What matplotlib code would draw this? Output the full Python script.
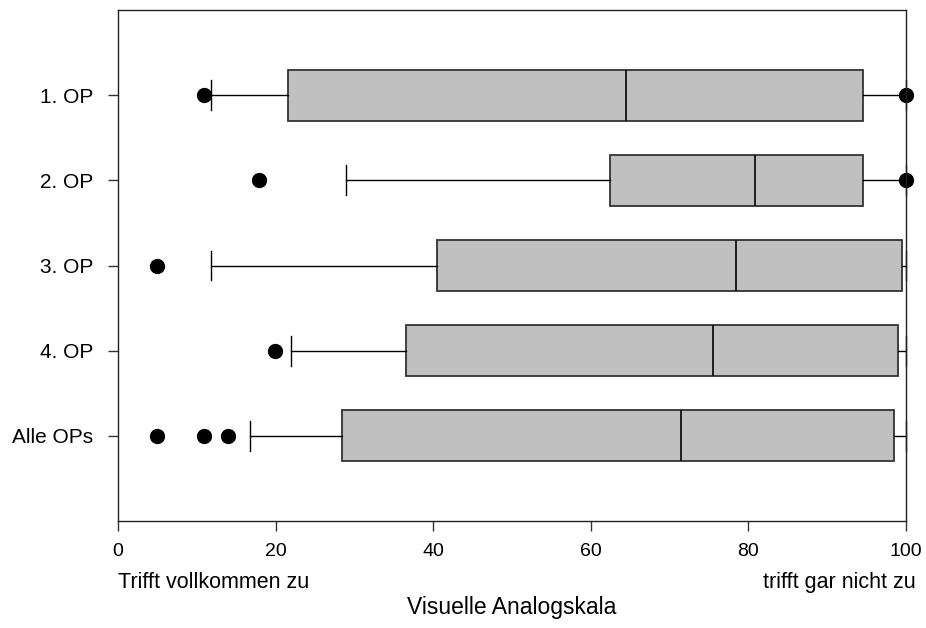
import matplotlib
matplotlib.use("Agg")
import matplotlib.pyplot as plt

plt.rcParams["font.family"] = ["Liberation Sans", "DejaVu Sans"]

# data (VAS 0..100), top to bottom
labels = ["1. OP", "2. OP", "3. OP", "4. OP", "Alle OPs"]
whislo = [11.8, 28.9, 11.8, 22.0, 16.8]
q1 = [21.6, 62.4, 40.5, 36.5, 28.4]
med = [64.5, 80.8, 78.4, 75.5, 71.4]
q3 = [94.5, 94.5, 99.5, 99.0, 98.5]
whishi = [100, 100, 100, 100, 100]
fliers = [[10.9, 100], [17.9, 100], [4.9], [19.9], [4.9, 10.9, 14.0]]
xticks = [0, 20, 40, 60, 80, 100]

stats = []
for i, lab in enumerate(labels):
    stats.append(dict(label=lab, whislo=whislo[i], q1=q1[i], med=med[i],
                      q3=q3[i], whishi=whishi[i], fliers=fliers[i]))

fig = plt.figure(figsize=(9.26, 6.28), dpi=100)
ax = fig.add_axes([118 / 926, 1 - 521 / 628, 788 / 926, 511 / 628])

positions = list(range(len(labels), 0, -1))
bp = ax.bxp(stats, positions=positions, vert=False, widths=0.6, patch_artist=True,
            boxprops=dict(facecolor="#c0c0c0", edgecolor="#333333", linewidth=1.3),
            medianprops=dict(color="#111111", linewidth=1.3),
            whiskerprops=dict(color="black", linewidth=1.0),
            capprops=dict(color="black", linewidth=1.0),
            flierprops=dict(marker="o", markerfacecolor="black", markeredgecolor="black",
                            markersize=10),
            capwidths=0.35)
for art in bp["fliers"] + bp["caps"]:
    art.set_clip_on(False)

ax.set_xlim(0, 100)
ax.set_ylim(0, len(labels) + 1)
ax.set_yticks(positions)
ax.set_yticklabels(labels, fontsize=15)
ax.set_xticks(xticks)
ax.set_xticklabels([str(t) for t in xticks], fontsize=14)
ax.tick_params(direction="out", length=7, width=1, color="#333333")
ax.tick_params(axis="x", pad=9)
ax.tick_params(axis="y", pad=11)
for sp in ax.spines.values():
    sp.set_linewidth(1.0)
    sp.set_color("#222222")

ax.text(0, -0.72, "Trifft vollkommen zu", ha="left", va="center", fontsize=15.5)
ax.text(101.3, -0.72, "trifft gar nicht zu", ha="right", va="center", fontsize=15.5)
ax.text(50, -1.02, "Visuelle Analogskala", ha="center", va="center", fontsize=16.5)
for t in ax.texts:
    t.set_clip_on(False)

fig.savefig("out.png", dpi=100)
